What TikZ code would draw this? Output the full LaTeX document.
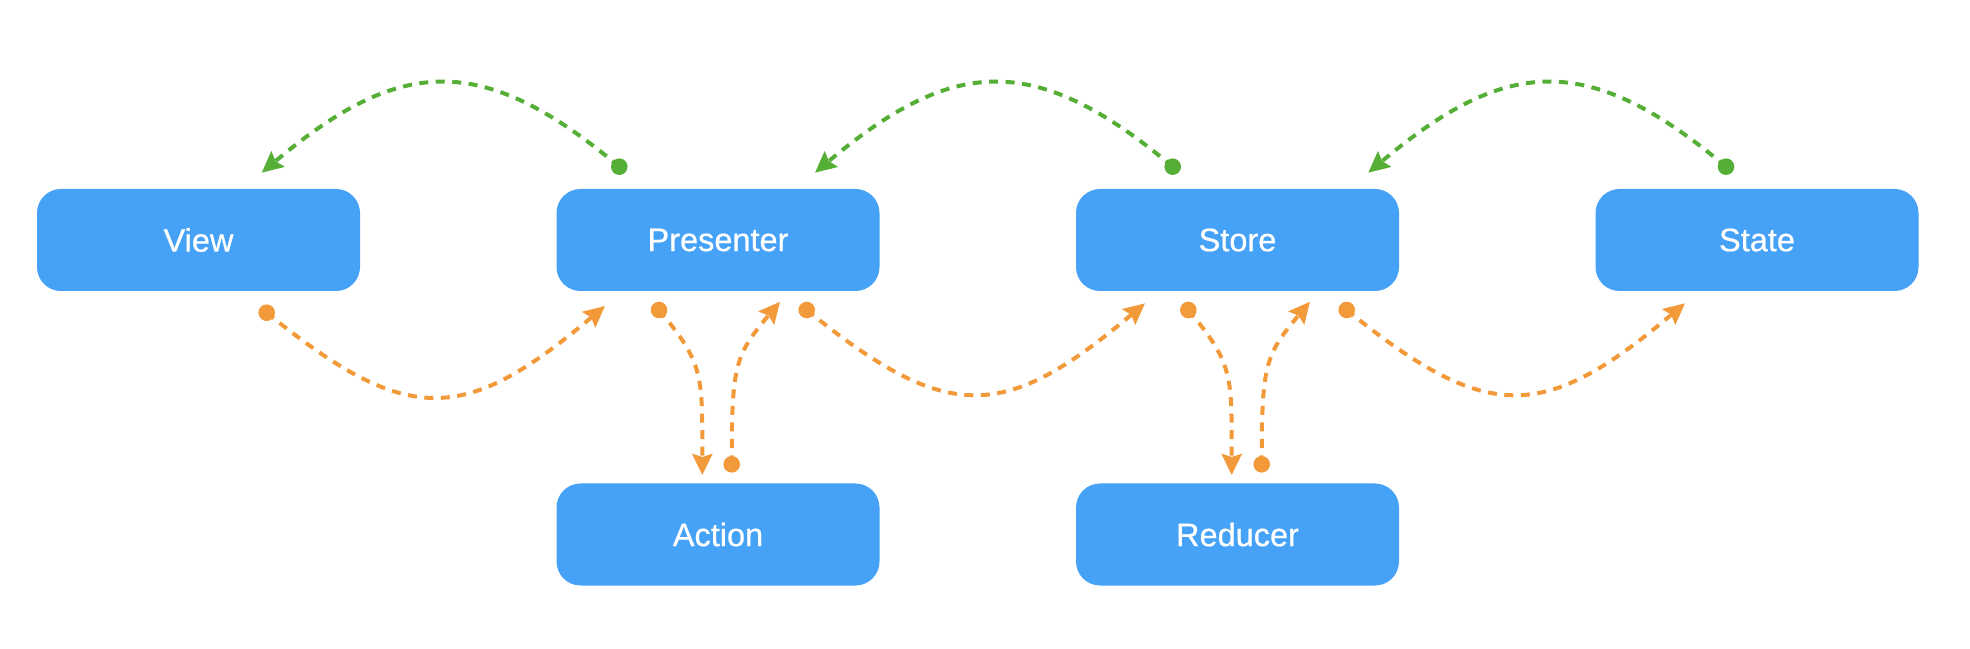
\documentclass[tikz,border=0pt]{standalone}
\usepackage{fontspec}
\setmainfont{Liberation Sans}
\newfontfamily\labelfont[FakeBold=0.6]{Liberation Sans}
\usetikzlibrary{arrows.meta}
\definecolor{boxblue}{RGB}{69,162,247}
\definecolor{flowgreen}{RGB}{85,174,54}
\definecolor{floworange}{RGB}{242,154,58}
\begin{document}
\begin{tikzpicture}[x=1pt,y=1pt,
  box/.style={fill=boxblue, rounded corners=24pt, minimum width=323pt, minimum height=102pt,
    inner sep=0pt, text=white, font=\labelfont\fontsize{32.5}{38}\selectfont},
  gdot/.style={circle, fill=flowgreen, minimum size=16.6pt, inner sep=0pt},
  odot/.style={circle, fill=floworange, minimum size=16.6pt, inner sep=0pt},
  flow/.style={line width=4pt, dash pattern=on 9pt off 7.5pt,
    -{Stealth[length=21pt,width=20pt,inset=3pt]}},
  gflow/.style={flow, color=flowgreen},
  oflow/.style={flow, color=floworange}
]
\useasboundingbox (0,0) rectangle (1970,648);

% boxes
\node[box] (view) at (198.5,408) {View};
\node[box] (presenter) at (718,408) {Presenter};
\node[box] (store) at (1237.5,408) {Store};
\node[box] (state) at (1757,408) {State};
\node[box] (action) at (718,113.5) {Action};
\node[box] (reducer) at (1237.5,113.5) {Reducer};

% green dots and tips
\node[gdot] (g1s) at (619.3,481.3) {};
\coordinate (g1e) at (261.7,475.3);
\node[gdot] (g2s) at (1172.7,481.3) {};
\coordinate (g2e) at (815,475.3);
\node[gdot] (g3s) at (1726,481.3) {};
\coordinate (g3e) at (1368.3,475.3);

% orange dots and tips (horizontal arcs)
\node[odot] (o1s) at (266.7,335.3) {};
\coordinate (o1e) at (605,342);
\node[odot] (o2s) at (806.7,338) {};
\coordinate (o2e) at (1145,344.7);
\node[odot] (o3s) at (1346.7,338) {};
\coordinate (o3e) at (1685,344.7);

% orange dots and tips (vertical)
\node[odot] (pas) at (659,338) {};
\coordinate (pae) at (702.3,173);
\node[odot] (aps) at (731.7,183.7) {};
\coordinate (ape) at (780,346.3);
\node[odot] (srs) at (1188.3,338) {};
\coordinate (sre) at (1231.7,173);
\node[odot] (rss) at (1261.7,183.7) {};
\coordinate (rse) at (1310,346.3);

% green arcs
\draw[gflow] (g1s.center) to[out=140,in=40,distance=180pt] (g1e);
\draw[gflow] (g2s.center) to[out=140,in=40,distance=180pt] (g2e);
\draw[gflow] (g3s.center) to[out=140,in=40,distance=180pt] (g3e);

% orange arcs
\draw[oflow] (o1s.center) to[out=-39,in=-140,distance=183pt] (o1e);
\draw[oflow] (o2s.center) to[out=-39,in=-140,distance=183pt] (o2e);
\draw[oflow] (o3s.center) to[out=-39,in=-140,distance=183pt] (o3e);

% vertical orange
\draw[oflow] (pas.center) to[out=-50,in=90,out distance=70pt,in distance=100pt] (pae);
\draw[oflow] (aps.center) to[out=90,in=-130,out distance=100pt,in distance=70pt] (ape);
\draw[oflow] (srs.center) to[out=-50,in=90,out distance=70pt,in distance=100pt] (sre);
\draw[oflow] (rss.center) to[out=90,in=-130,out distance=100pt,in distance=70pt] (rse);
\end{tikzpicture}
\end{document}
